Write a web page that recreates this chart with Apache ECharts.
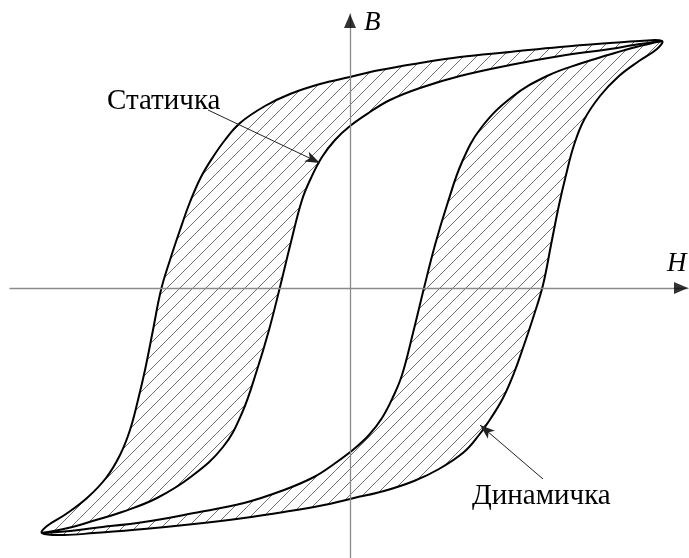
<!DOCTYPE html>
<html>
<head>
<meta charset="utf-8">
<script src="https://cdn.jsdelivr.net/npm/echarts@6/dist/echarts.min.js"></script>
<style>
  html, body { margin: 0; padding: 0; background: #fff; }
  #chart { width: 689px; height: 558px; }
</style>
</head>
<body>
<div id="chart"></div>
<script>
// Field strength H (x) and flux density B (y), relative units.
const H_RANGE = [-3.40, 3.38];
const B_RANGE = [-2.70, 2.74];

// Dynamic loop: falling branch, from the positive tip to the negative tip.
const dynamicFalling = [
  [3.12, 2.47], [2.90, 2.47], [2.60, 2.45], [2.10, 2.41], [1.60, 2.36], [1.10, 2.31],
  [0.70, 2.25], [0.30, 2.18], [0.00, 2.11], [-0.30, 2.04], [-0.60, 1.94], [-0.85, 1.82],
  [-1.10, 1.65], [-1.25, 1.48], [-1.37, 1.31], [-1.49, 1.11], [-1.60, 0.86], [-1.70, 0.58],
  [-1.80, 0.28], [-1.89, -0.02], [-1.97, -0.42], [-2.05, -0.82], [-2.12, -1.12],
  [-2.20, -1.42], [-2.30, -1.67], [-2.44, -1.90], [-2.63, -2.10], [-2.84, -2.26],
  [-3.03, -2.38], [-3.08, -2.45]
];
// Dynamic loop: rising branch between the two tips.
const dynamicRising = [
  [-2.86, -2.47], [-2.56, -2.45], [-2.06, -2.41], [-1.56, -2.36], [-1.06, -2.30],
  [-0.66, -2.24], [-0.26, -2.17], [0.04, -2.10], [0.34, -2.03], [0.64, -1.93],
  [0.89, -1.81], [1.14, -1.64], [1.29, -1.47], [1.41, -1.30], [1.53, -1.10], [1.64, -0.85],
  [1.74, -0.57], [1.84, -0.27], [1.93, 0.03], [2.01, 0.43], [2.09, 0.83], [2.16, 1.13],
  [2.24, 1.43], [2.34, 1.68], [2.50, 1.92], [2.69, 2.12], [2.89, 2.27], [3.07, 2.39]
];
// Static loop: falling branch.
const staticFalling = [
  [3.12, 2.47], [2.84, 2.43], [2.60, 2.39], [2.10, 2.32], [1.60, 2.23], [1.10, 2.12],
  [0.70, 2.00], [0.40, 1.88], [0.20, 1.76], [0.00, 1.62], [-0.15, 1.48], [-0.28, 1.31],
  [-0.39, 1.10], [-0.48, 0.88], [-0.59, 0.46], [-0.70, 0.01], [-0.81, -0.42],
  [-0.93, -0.82], [-1.08, -1.25], [-1.27, -1.59], [-1.58, -1.88], [-1.93, -2.10],
  [-2.28, -2.24], [-2.54, -2.32], [-2.82, -2.40], [-3.08, -2.45]
];
// Static loop: rising branch.
const staticRising = [
  [-2.80, -2.43], [-2.56, -2.40], [-2.06, -2.34], [-1.56, -2.25], [-1.06, -2.15],
  [-0.66, -2.02], [-0.36, -1.89], [-0.16, -1.76], [0.04, -1.61], [0.19, -1.47],
  [0.32, -1.30], [0.43, -1.09], [0.52, -0.87], [0.63, -0.45], [0.74, 0.00], [0.85, 0.43],
  [0.97, 0.83], [1.12, 1.26], [1.31, 1.60], [1.62, 1.91], [1.97, 2.12], [2.32, 2.25],
  [2.58, 2.33], [2.86, 2.41]
];

// Callout lines: [from, to] in H/B units.
const staticPointer = [[-1.42, 1.78], [-0.30, 1.25]];
const dynamicPointer = [[1.93, -1.91], [1.30, -1.37]];

const SERIF = '"Liberation Serif", "Times New Roman", serif';
const SMOOTH = 0.4;

function hatchPattern(step) {
  const c = document.createElement('canvas');
  c.width = c.height = step;
  const g = c.getContext('2d');
  g.strokeStyle = '#707070';
  g.lineWidth = 1;
  g.beginPath();
  g.moveTo(-1, step + 1); g.lineTo(step + 1, -1);
  g.moveTo(-1, 1); g.lineTo(1, -1);
  g.moveTo(step - 1, step + 1); g.lineTo(step + 1, step - 1);
  g.stroke();
  return c;
}
const hatch = hatchPattern(13);

function loopItem(params, api) {
  const toPx = p => api.coord(p);
  const dynLoop = dynamicFalling.concat(dynamicRising).map(toPx);
  const statLoop = staticFalling.concat(staticRising).map(toPx);
  const tipTop = dynamicFalling[0];
  const tipBottom = dynamicFalling[dynamicFalling.length - 1];
  const statUp = [tipBottom].concat(staticRising, [tipTop]).map(toPx);
  const statDown = staticFalling.map(toPx);
  const pen = { fill: null, stroke: '#000', lineWidth: 2, lineJoin: 'round' };
  return {
    type: 'group',
    children: [
      { type: 'polygon', shape: { points: dynLoop, smooth: SMOOTH },
        style: { fill: { image: hatch, repeat: 'repeat' }, stroke: null } },
      { type: 'polygon', shape: { points: statLoop, smooth: SMOOTH },
        style: { fill: '#fff', stroke: null } },
      { type: 'polygon', shape: { points: dynLoop, smooth: SMOOTH }, style: pen },
      { type: 'polyline', shape: { points: statDown, smooth: SMOOTH }, style: pen },
      { type: 'polyline', shape: { points: statUp, smooth: SMOOTH }, style: pen }
    ]
  };
}

const chart = echarts.init(document.getElementById('chart'));
const axisCommon = {
  type: 'value',
  z: 5,
  axisLine: { show: true, onZero: true, lineStyle: { color: '#8a8a8a', width: 1.3 } },
  axisTick: { show: false },
  axisLabel: { show: false },
  splitLine: { show: false }
};

chart.setOption({
  animation: false,
  backgroundColor: '#fff',
  grid: { left: 10, right: 1, top: 14, bottom: 0 },
  xAxis: Object.assign({ min: H_RANGE[0], max: H_RANGE[1] }, axisCommon),
  yAxis: Object.assign({ min: B_RANGE[0], max: B_RANGE[1] }, axisCommon),
  series: [
    {
      type: 'custom',
      renderItem: loopItem,
      data: [[0, 0]],
      silent: true,
      z: 2,
      markLine: {
        silent: true,
        symbol: ['none', 'arrow'],
        symbolSize: [8, 15],
        label: { show: false },
        lineStyle: { type: 'solid', color: '#222', width: 1 },
        emphasis: { disabled: true },
        data: [
          [{ coord: staticPointer[0] }, { coord: staticPointer[1] }],
          [{ coord: dynamicPointer[0] }, { coord: dynamicPointer[1] }]
        ]
      }
    },
    {
      type: 'scatter',
      silent: true,
      z: 6,
      symbol: 'triangle',
      itemStyle: { color: '#000' },
      data: [
        { value: [H_RANGE[1] - 0.07, 0], symbolSize: [12, 14], symbolRotate: -90 },
        { value: [0, B_RANGE[1] - 0.07], symbolSize: [12, 14], symbolRotate: 0 }
      ]
    }
  ],
  graphic: [
    { type: 'text', x: 107, y: 101, z: 10,
      style: { text: 'Статичка', font: '29px ' + SERIF, fill: '#000', verticalAlign: 'middle' } },
    { type: 'text', x: 472, y: 496, z: 10,
      style: { text: 'Динамичка', font: '29px ' + SERIF, fill: '#000', verticalAlign: 'middle' } },
    { type: 'text', x: 364, y: 23, z: 10,
      style: { text: 'B', font: 'italic 27px ' + SERIF, fill: '#000', verticalAlign: 'middle' } },
    { type: 'text', x: 667, y: 264, z: 10,
      style: { text: 'H', font: 'italic 27px ' + SERIF, fill: '#000', verticalAlign: 'middle' } }
  ]
});
</script>
</body>
</html>
